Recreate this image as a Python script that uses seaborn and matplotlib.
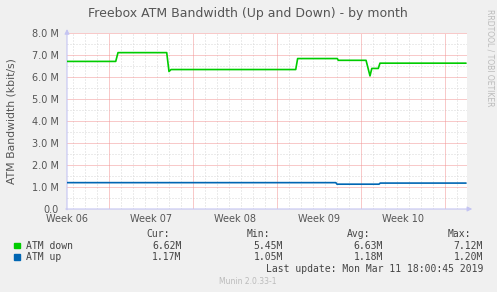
import matplotlib
matplotlib.use("Agg")
import matplotlib.pyplot as plt
import seaborn as sns
import pandas as pd
import numpy as np

# ---- data (days since start of Week 06, values in M kbit/s) ----
down_t = [0.0, 4.06, 4.25, 8.31, 8.5, 8.67, 19.06, 19.22, 22.53, 22.6, 24.92, 25.25, 25.4, 25.94, 26.08, 33.25]
down_v = [6.72, 6.72, 7.12, 7.12, 6.26, 6.35, 6.35, 6.85, 6.85, 6.77, 6.77, 6.06, 6.40, 6.40, 6.64, 6.64]
up_t = [0.0, 22.4, 22.5, 26.0, 26.1, 33.25]
up_v = [1.20, 1.20, 1.13, 1.13, 1.18, 1.18]

week_labels = ["Week 06", "Week 07", "Week 08", "Week 09", "Week 10"]
week_pos = [0, 7, 14, 21, 28]
ytick_vals = [0, 1, 2, 3, 4, 5, 6, 7, 8]
ytick_labels = ["0.0", "1.0 M", "2.0 M", "3.0 M", "4.0 M", "5.0 M", "6.0 M", "7.0 M", "8.0 M"]

series_names = ["ATM down", "ATM up"]
series_colors = ["#00cc00", "#0066b3"]
cur = ["6.62M", "1.17M"]
mins = ["5.45M", "1.05M"]
avgs = ["6.63M", "1.18M"]
maxs = ["7.12M", "1.20M"]

sns.set_theme(style="white")
plt.rcParams["font.family"] = ["DejaVu Sans"]

W, H = 497, 292
fig = plt.figure(figsize=(W / 100, H / 100), dpi=100, facecolor="#f0f0f0")

def fx(px):
    return px / W

def fy(py):
    return 1 - py / H

L, R, T, B = 67, 467, 33.3, 209
ax = fig.add_axes([fx(L), fy(B), (R - L) / W, (B - T) / H])
ax.set_facecolor("white")

df = pd.concat([
    pd.DataFrame({"t": down_t, "v": down_v, "s": "ATM down"}),
    pd.DataFrame({"t": up_t, "v": up_v, "s": "ATM up"}),
])
sns.lineplot(data=df, x="t", y="v", hue="s", palette=series_colors, sort=False,
             estimator=None, linewidth=1.2, legend=False, ax=ax, zorder=5)

ax.set_xlim(0, 400 / 12)
ax.set_ylim(0, 8)

major_col = "#f29494"
minor_col = "#d8d8d8"
gl = 0.72
# grid: minor (daily / 0.5 M) then major (weekly / 1 M)
for d in np.arange(0.5, 33.4, 1.0):
    if abs((d - 3.5) % 7) > 1e-6:
        ax.axvline(d, color=minor_col, lw=gl, ls=(0, (1, 2)), zorder=1)
for d in np.arange(3.5, 33.4, 7.0):
    ax.axvline(d, color=major_col, lw=gl, ls=(0, (1, 1)), zorder=2)
for yv in np.arange(0.5, 8.01, 1.0):
    ax.axhline(yv, color=minor_col, lw=gl, ls=(0, (1, 2)), zorder=1)
for yv in np.arange(1.0, 8.01, 1.0):
    ax.axhline(yv, color=major_col, lw=gl, ls=(0, (1, 1)), zorder=2)

for sp in ax.spines.values():
    sp.set_visible(False)

ax.set_xticks(week_pos)
ax.set_xticklabels(week_labels)
ax.set_yticks(ytick_vals)
ax.set_yticklabels(ytick_labels)
ax.grid(False)
ax.tick_params(axis="both", length=0, labelsize=7, colors="#555555", pad=6)
ax.tick_params(axis="x", pad=3.5)
ax.set_xlabel("")
ax.set_ylabel("ATM Bandwidth (kbit/s)", fontsize=7.8, color="#555555", labelpad=11)

# axis lines with arrows
axis_col = "#c4c4f2"
ax.annotate("", xy=(0, 1.04), xytext=(0, -0.02), xycoords="axes fraction",
            arrowprops=dict(arrowstyle="-|>", color=axis_col, lw=0.8, mutation_scale=7),
            annotation_clip=False)
ax.annotate("", xy=(1.02, 0), xytext=(-0.01, 0), xycoords="axes fraction",
            arrowprops=dict(arrowstyle="-|>", color=axis_col, lw=0.8, mutation_scale=7),
            annotation_clip=False)

# title
fig.text(fx(248), fy(14), "Freebox ATM Bandwidth (Up and Down) - by month",
         ha="center", va="center", fontsize=9, color="#555555")
fig.text(fx(490), fy(58), "RRDTOOL / TOBI OETIKER", rotation=270, ha="center",
         va="center", fontsize=5.5, color="#bbbbbb")

# legend block
mono = "DejaVu Sans Mono"
lc = "#444444"
fs = 7
fig.text(fx(146), fy(234), "Cur:", ha="left", va="center", family=mono, fontsize=fs, color=lc)
fig.text(fx(247), fy(234), "Min:", ha="left", va="center", family=mono, fontsize=fs, color=lc)
fig.text(fx(347), fy(234), "Avg:", ha="left", va="center", family=mono, fontsize=fs, color=lc)
fig.text(fx(448), fy(234), "Max:", ha="left", va="center", family=mono, fontsize=fs, color=lc)
row_y = [245.7, 257.3]
for i in range(2):
    y = row_y[i]
    fig.patches.append(plt.Rectangle((fx(14), fy(y + 2.5)), 5.5 / W, 5.5 / H,
                                     transform=fig.transFigure, color=series_colors[i]))
    fig.text(fx(26.5), fy(y), series_names[i], ha="left", va="center", family=mono, fontsize=fs, color=lc)
    fig.text(fx(181.5), fy(y), cur[i], ha="right", va="center", family=mono, fontsize=fs, color=lc)
    fig.text(fx(283), fy(y), mins[i], ha="right", va="center", family=mono, fontsize=fs, color=lc)
    fig.text(fx(383), fy(y), avgs[i], ha="right", va="center", family=mono, fontsize=fs, color=lc)
    fig.text(fx(483), fy(y), maxs[i], ha="right", va="center", family=mono, fontsize=fs, color=lc)
fig.text(fx(483), fy(269.5), "Last update: Mon Mar 11 18:00:45 2019", ha="right", va="center",
         family=mono, fontsize=fs, color=lc)
fig.text(fx(248), fy(281), "Munin 2.0.33-1", ha="center", va="center", fontsize=5.5, color="#bbbbbb")

fig.savefig("out.png", dpi=100, facecolor=fig.get_facecolor())
